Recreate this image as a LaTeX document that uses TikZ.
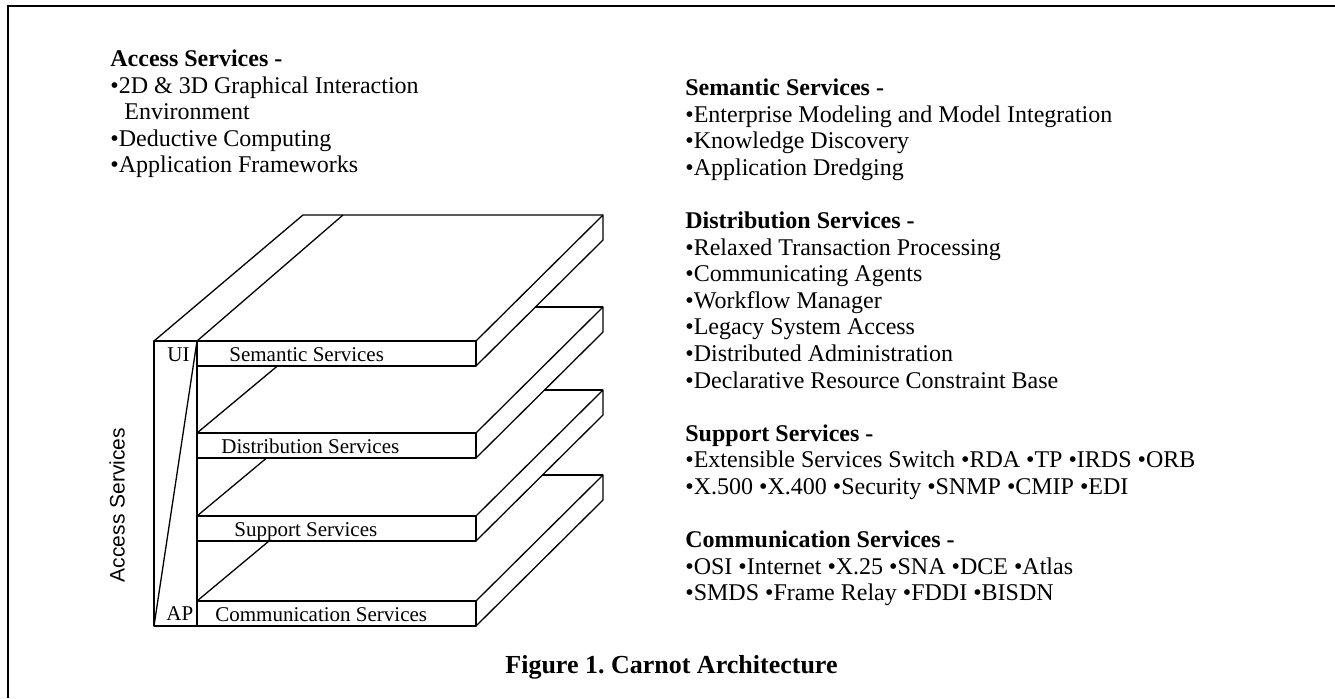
\documentclass[tikz,border=0pt]{standalone}
\usepackage{fontspec}
\setmainfont{Liberation Serif}
\setsansfont{Liberation Sans}
\usepackage{tikz}
\frenchspacing
\tikzset{
  layer face/.style={draw=black, line width=0.65pt, line join=round},
  layer label/.style={anchor=base west, inner sep=0pt, font=\fontsize{10.5}{12.6}\selectfont},
  item/.style={anchor=base west, inner sep=0pt, font=\fontsize{12}{14}\selectfont},
  frame line/.style={draw=black, line width=1pt}
}
% #1 node name, #2 top of front face, #3 label x, #4 label
\def\Layer#1#2#3#4{%
  \draw[layer face] (197,#2) rectangle (476,{#2+25});
  \draw[layer face] (476,#2) -- (603,{#2-126}) -- (603,{#2-101}) -- (476,{#2+25});
  \node[layer label] (#1) at (#3,{#2+20}) {#4};
}
% #1 top of front face, #2 bottom of the layer above
\def\LayerTop#1#2{%
  \draw[layer face] (197,#1) -- ({197+1.2*(#1-#2)},#2);
  \draw[layer face] ({476+#2+126-#1},{#1-126}) -- (603,{#1-126});
}
\begin{document}
\begin{tikzpicture}[x=0.5pt, y=-0.5pt]
\useasboundingbox (0,0) rectangle (1335,698);
\draw[frame line] (8,698) -- (8,6) -- (1335,6);

% access column
\draw[layer face] (154,341) rectangle (197,626);
\draw[layer face] (154,626) -- (197,341);
\draw[layer face] (154,341) -- (303,215) -- (603,215);
\draw[layer face] (197,341) -- (343,215);
\node[layer label] (ui) at (167,361) {UI};
\node[layer label] (ap) at (166,620) {AP};
\node[rotate=90, inner sep=0pt, font=\sffamily\fontsize{10.5}{12.6}\selectfont] (access) at (117,505) {Access Services};

% layers
\Layer{semantic}{341}{229}{Semantic Services}
\Layer{distribution}{433}{221}{Distribution Services}
\LayerTop{433}{366}
\Layer{support}{516}{234}{Support Services}
\LayerTop{516}{458}
\Layer{communication}{601}{215}{Communication Services}
\LayerTop{601}{541}

% service lists
\foreach \txt [count=\i from 0] in {\textbf{Access Services -}, •2D \& 3D Graphical Interaction,
    \hspace{7pt}Environment, •Deductive Computing, •Application Frameworks}
  \node[item] (access\i) at (110,{66.5+26.6*\i}) {\txt};
\foreach \txt [count=\i from 0] in {\textbf{Semantic Services -},
    •Enterprise Modeling and Model Integration, •Knowledge Discovery, •Application Dredging, {},
    \textbf{Distribution Services -}, •Relaxed Transaction Processing, •Communicating Agents,
    •Workflow Manager, •Legacy System Access, •Distributed Administration,
    •Declarative Resource Constraint Base, {},
    \textbf{Support Services -}, •Extensible Services Switch •RDA •TP •IRDS •ORB,
    •X.500 •X.400 •Security •SNMP •CMIP •EDI, {},
    \textbf{Communication Services -}, •OSI •Internet •X.25 •SNA •DCE •Atlas,
    •SMDS •Frame Relay •FDDI •BISDN}
  \node[item] (list\i) at (685,{95.5+26.6*\i}) {\txt};

\node[anchor=base west, inner sep=0pt, font=\bfseries\fontsize{13}{15.6}\selectfont] (caption)
  at (505,673) {Figure 1. Carnot Architecture};
\end{tikzpicture}
\end{document}
